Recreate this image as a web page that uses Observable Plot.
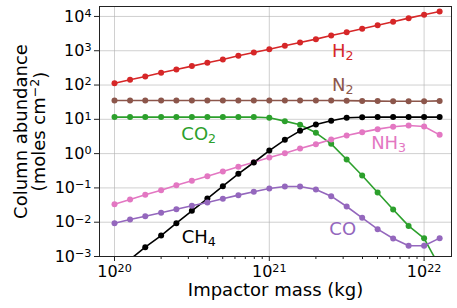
<!DOCTYPE html>
<html>
<head>
<meta charset="utf-8">
<script src="https://cdn.jsdelivr.net/npm/d3@7"></script>
<script src="https://cdn.jsdelivr.net/npm/@observablehq/plot@0.6"></script>
<style>
  html, body { margin: 0; padding: 0; background: #fff; }
  svg { font-family: "DejaVu Sans", sans-serif; }
</style>
</head>
<body>
<div id="chart"></div>
<script>
// Impactor masses (kg)
const mass = [1.00e20, 1.26e20, 1.58e20, 2.00e20, 2.51e20, 3.16e20, 3.98e20, 5.01e20, 6.31e20, 7.94e20,
              1.00e21, 1.26e21, 1.58e21, 2.00e21, 2.51e21, 3.16e21, 3.98e21, 5.01e21, 6.31e21, 7.94e21,
              1.00e22, 1.26e22];
// Column abundances (moles cm^-2)
const H2  = [113, 142, 177, 227, 284, 356, 445, 556, 711, 889, 1110, 1390, 1740, 2180, 2790, 3480, 4370, 5570, 6980, 8930, 11200, 14000];
const N2  = [35.5, 35.5, 35.5, 35.5, 35.5, 35.5, 35.5, 35.5, 35.5, 35.5, 35.5, 35.5, 35.5, 35.5, 35.3, 35.0, 34.5, 34.0, 33.5, 33.5, 33.5, 34.5];
const CO2 = [11.6, 11.6, 11.6, 11.6, 11.6, 11.6, 11.6, 11.6, 11.6, 11.6, 11.1, 8.85, 6.92, 4.04, 1.93, 0.675, 0.230, 0.0734, 0.0235, 0.0078, 0.0034, 0.0005];
const NH3 = [0.0336, 0.0459, 0.0628, 0.0859, 0.120, 0.161, 0.220, 0.301, 0.412, 0.564, 0.771, 1.03, 1.41, 1.89, 2.58, 3.38, 4.23, 5.17, 6.05, 6.61, 6.18, 3.53];
const CH4 = [0.00036, 0.00082, 0.00187, 0.00409, 0.00938, 0.0215, 0.0491, 0.112, 0.258, 0.551, 1.23, 2.52, 4.62, 7.07, 9.05, 11.1, 11.5, 11.6, 11.6, 11.6, 11.6, 11.6];
const CO  = [0.00938, 0.0120, 0.0150, 0.0188, 0.0240, 0.0301, 0.0376, 0.0481, 0.0615, 0.0769, 0.0962, 0.110, 0.110, 0.0900, 0.0575, 0.0287, 0.0134, 0.00627, 0.00335, 0.00205, 0.00205, 0.00343];

const seriesNames  = ["H2", "N2", "CO2", "NH3", "CH4", "CO"];
const seriesColors = ["#d62728", "#8c564b", "#2ca02c", "#e377c2", "#000000", "#9467bd"];
const seriesValues = [H2, N2, CO2, NH3, CH4, CO];

// In-plot labels ("_" marks a subscript)
const labelText  = ["H_2", "N_2", "CO_2", "NH_3", "CH_4", "CO"];
const labelX     = [2.98e21, 2.98e21, 3.5e20, 5.9e21, 3.5e20, 2.98e21];
const labelY     = [1.0e3, 97, 3.6, 2.0, 0.0036, 0.0061];

const xTicks = [1e20, 1e21, 1e22];
const xMinorTicks = [2e20, 3e20, 4e20, 5e20, 6e20, 7e20, 8e20, 9e20, 2e21, 3e21, 4e21, 5e21, 6e21, 7e21, 8e21, 9e21];
const yTicks = [1e-3, 1e-2, 1e-1, 1e0, 1e1, 1e2, 1e3, 1e4];

const xTitle = "Impactor mass (kg)";
const yTitle = "Column abundance\n(moles cm^-2";

const rows = [];
seriesNames.forEach((s, k) => mass.forEach((m, i) => rows.push({series: s, mass: m, value: seriesValues[k][i]})));
const labels = labelText.map((t, i) => ({text: t, x: labelX[i], y: labelY[i], series: seriesNames[i]}));

const fmt = d => "10^" + Math.round(Math.log10(d));

const chart = Plot.plot({
  width: 457,
  height: 308,
  marginLeft: 99,
  marginRight: 6,
  marginTop: 6,
  marginBottom: 52,
  style: {fontFamily: "DejaVu Sans", background: "#fff", overflow: "visible"},
  x: {type: "log", domain: [10 ** 19.903, 10 ** 22.177]},
  y: {type: "log", domain: [1e-3, 10 ** 4.29]},
  color: {domain: seriesNames, range: seriesColors},
  marks: [
    Plot.gridX(xTicks, {stroke: "#b0b0b0", strokeOpacity: 0.6, strokeWidth: 1}),
    Plot.gridY(yTicks, {stroke: "#b0b0b0", strokeOpacity: 0.6, strokeWidth: 1}),
    Plot.line(rows, {x: "mass", y: "value", z: "series", stroke: "series", strokeWidth: 1.6, clip: true}),
    Plot.dot(rows, {x: "mass", y: "value", fill: "series", r: 3, clip: true}),
    Plot.text(labels, {x: "x", y: "y", text: "text", fill: "series", fontSize: 18}),
    Plot.axisX(xMinorTicks, {tickSize: 3, tickFormat: () => "", label: null, stroke: "#222"}),
    Plot.axisX(xTicks, {tickSize: 5, tickPadding: 4, tickFormat: fmt, fontSize: 16, label: null, stroke: "#222", fill: "#000"}),
    Plot.axisY(yTicks, {tickSize: 5, tickPadding: 3, tickFormat: fmt, fontSize: 16, label: null, stroke: "#222", fill: "#000"}),
    Plot.frame({stroke: "#222", strokeWidth: 1}),
    Plot.text([xTitle], {frameAnchor: "bottom", lineAnchor: "middle", textAnchor: "middle", dy: 34, fontSize: 18, fill: "#000"}),
    Plot.text([yTitle], {frameAnchor: "left", lineAnchor: "middle", textAnchor: "middle", rotate: -90, dx: -69, fontSize: 18, lineHeight: 0.95, fill: "#000"})
  ]
});

// Render "10^n" as 10 with a superscript, "X_n" as X with a subscript
d3.select(chart).selectAll("text, tspan").each(function () {
  if (this.children.length) return;
  const t = this.textContent;
  let m = /^(.*?)\^(-?\d+)$/.exec(t);
  if (m) {
    const el = d3.select(this);
    el.text(m[1]);
    el.append("tspan").attr("dy", "-0.42em").attr("font-size", "0.7em").text(m[2].replace("-", "\u2212"));
    if (m[1].startsWith("(")) el.append("tspan").attr("dy", "0.42em").text(")");
    return;
  }
  m = /^(.*?)_(\d)$/.exec(t);
  if (m) {
    const el = d3.select(this);
    el.text(m[1]);
    el.append("tspan").attr("dy", "0.25em").attr("font-size", "0.7em").text(m[2]);
  }
});

document.getElementById("chart").appendChild(chart);
</script>
</body>
</html>
